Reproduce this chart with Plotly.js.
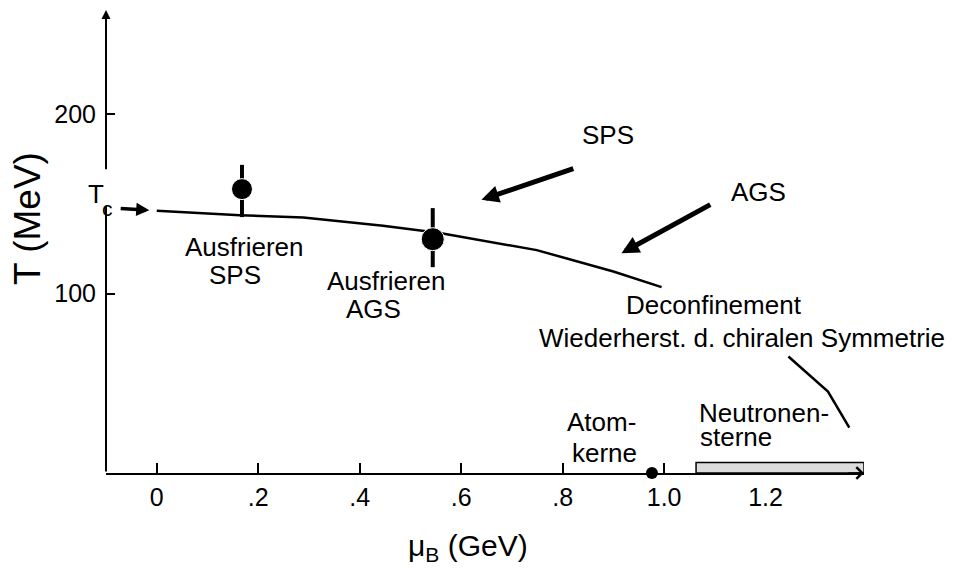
<!DOCTYPE html>
<html>
<head>
<meta charset="utf-8">
<script src="https://cdn.plot.ly/plotly-3.0.1.min.js"></script>
<style>
  html, body { margin: 0; padding: 0; background: #ffffff; }
  #chart { width: 957px; height: 570px; }
</style>
</head>
<body>
<div id="chart"></div>
<script>
// Phase boundary T(mu_B): two visible pieces, the middle runs under the labels
const boundaryMu = [0, 0.164, 0.289, 0.446, 0.558, 0.749, 0.900, 0.995, null, 1.245, 1.323, 1.365];
const boundaryT  = [146.1, 143.6, 142.4, 137.8, 133.7, 124.2, 112.3, 103.6, null, 64.9, 45.4, 25.3];

// Chemical freeze-out points with their uncertainties
const freezeNames   = ['SPS', 'AGS'];
const freezeMu      = [0.168, 0.544];
const freezeT       = [158.2, 130.3];
const freezeErrUp   = [13.5, 17.3];
const freezeErrDown = [15.6, 15.6];
const freezeSize    = [21, 23];

// Ordinary nuclear matter
const nucleiMu = [0.976];
const nucleiT  = [0];

// Neutron-star band along the mu_B axis
const starMu = [1.063, 1.394];
const starT  = [0, 5.8];

// Beam-energy arrows: [tail mu, tail T, head mu, head T]
const spsArrow = [0.824, 169.9, 0.640, 152.2];
const agsArrow = [1.094, 150.0, 0.916, 122.5];
const tcArrow  = [-0.074, 147.5, -0.0146, 146.4];

// Axis ticks
const xTickVals = [0, 0.2, 0.4, 0.6, 0.8, 1.0, 1.2];
const xTickText = ['0', '.2', '.4', '.6', '.8', '1.0', '1.2'];
const yTickVals = [100, 200];
const yTickText = ['100', '200'];

const xRange = [-0.1, 1.394];
const yRange = [0, 258];
const yGap = [148.5, 168.4];   // break in the T axis around the T_c label

const FONT = 'Liberation Sans, Arial, Helvetica, sans-serif';

const traces = [
  {
    type: 'scatter', mode: 'lines', name: 'Phasengrenze',
    x: boundaryMu, y: boundaryT, connectgaps: false,
    line: { color: '#000000', width: 2.5 },
    hoverinfo: 'skip'
  },
  {
    type: 'scatter', mode: 'lines', name: 'Neutronensterne',
    x: [starMu[0], starMu[1], starMu[1], starMu[0], starMu[0]],
    y: [starT[0], starT[0], starT[1], starT[1], starT[0]],
    fill: 'toself', fillcolor: '#dcdcdc',
    line: { color: '#000000', width: 1.5 },
    cliponaxis: false, hoverinfo: 'skip'
  },
  {
    type: 'scatter', mode: 'markers', name: 'Ausfrieren',
    x: freezeMu, y: freezeT, text: freezeNames,
    marker: { color: '#000000', size: freezeSize, opacity: 1 },
    error_y: {
      type: 'data', symmetric: false,
      array: freezeErrUp, arrayminus: freezeErrDown,
      color: '#000000', thickness: 4, width: 0
    },
    cliponaxis: false
  },
  {
    type: 'scatter', mode: 'markers', name: 'Atomkerne',
    x: nucleiMu, y: nucleiT,
    marker: { color: '#000000', size: 12, opacity: 1 },
    cliponaxis: false
  }
];

function label(text, x, y, opts) {
  return Object.assign({
    text: text, x: x, y: y, xref: 'x', yref: 'y',
    showarrow: false, xanchor: 'center', yanchor: 'middle',
    font: { family: FONT, size: 26, color: '#000000' }
  }, opts || {});
}

function arrow(a, width, head, size) {
  return {
    text: '', x: a[2], y: a[3], ax: a[0], ay: a[1],
    xref: 'x', yref: 'y', axref: 'x', ayref: 'y',
    showarrow: true, arrowhead: head, arrowsize: size,
    arrowwidth: width, arrowcolor: '#000000', standoff: 0, startstandoff: 0
  };
}

const annotations = [
  // T axis drawn in two pieces with an arrow tip
  arrow([xRange[0], 0, xRange[0], yGap[0]], 2, 0, 1),
  arrow([xRange[0], yGap[1], xRange[0], yRange[1]], 2, 2, 0.9),
  // arrow tip on the mu_B axis
  arrow([1.36, 0, xRange[1], 0], 1.5, 4, 1.5),

  arrow(spsArrow, 5, 2, 0.7),
  arrow(agsArrow, 5, 2, 0.7),
  arrow(tcArrow, 3.5, 2, 0.75),

  label('SPS', 0.889, 188.2),
  label('AGS', 1.187, 156.7),
  label('Ausfrieren', 0.172, 126.2),
  label('SPS', 0.154, 110.4),
  label('Ausfrieren', 0.452, 107.2),
  label('AGS', 0.427, 91.5),
  label('Deconfinement', 1.098, 93.7),
  label('Wiederherst. d. chiralen Symmetrie', 1.154, 75.1),
  label('Atom-', 0.877, 28.2),
  label('kerne', 0.883, 11.4),
  label('Neutronen-', 1.065, 33.3, { xanchor: 'left' }),
  label('sterne', 1.067, 19.9, { xanchor: 'left' }),

  // T_c next to the temperature axis
  label('T', -0.0132, 0.6026, { xref: 'paper', yref: 'paper',
        font: { family: FONT, size: 26, color: '#000000' } }),
  label('c', 0.0026, 0.571, { xref: 'paper', yref: 'paper',
        font: { family: FONT, size: 21, color: '#000000' } }),

  // axis titles
  label('T (MeV)', -0.1029, 0.5486, { xref: 'paper', yref: 'paper', textangle: -90,
        font: { family: FONT, size: 37, color: '#000000' } }),
  label('\u03bc<sub>B</sub> (GeV)', 0.4776, -0.16, { xref: 'paper', yref: 'paper',
        font: { family: FONT, size: 30, color: '#000000' } })
];

const layout = {
  width: 957, height: 570,
  margin: { l: 106, r: 93, t: 10, b: 97, pad: 0 },
  paper_bgcolor: '#ffffff', plot_bgcolor: '#ffffff',
  showlegend: false,
  font: { family: FONT, color: '#000000' },
  xaxis: {
    range: xRange, showgrid: false, zeroline: false,
    showline: true, linecolor: '#000000', linewidth: 2,
    ticks: 'inside', ticklen: 10, tickwidth: 2, tickcolor: '#000000',
    tickmode: 'array', tickvals: xTickVals, ticktext: xTickText,
    tickfont: { family: FONT, size: 25, color: '#000000' },
    ticklabelstandoff: 1, layer: 'below traces'
  },
  yaxis: {
    range: yRange, showgrid: false, zeroline: false,
    showline: false,
    ticks: 'inside', ticklen: 9, tickwidth: 2, tickcolor: '#000000',
    tickmode: 'array', tickvals: yTickVals, ticktext: yTickText,
    tickfont: { family: FONT, size: 25, color: '#000000' },
    ticklabelstandoff: 9, layer: 'below traces'
  },
  annotations: annotations
};

Plotly.newPlot('chart', traces, layout, { displayModeBar: false, staticPlot: true });
</script>
</body>
</html>
